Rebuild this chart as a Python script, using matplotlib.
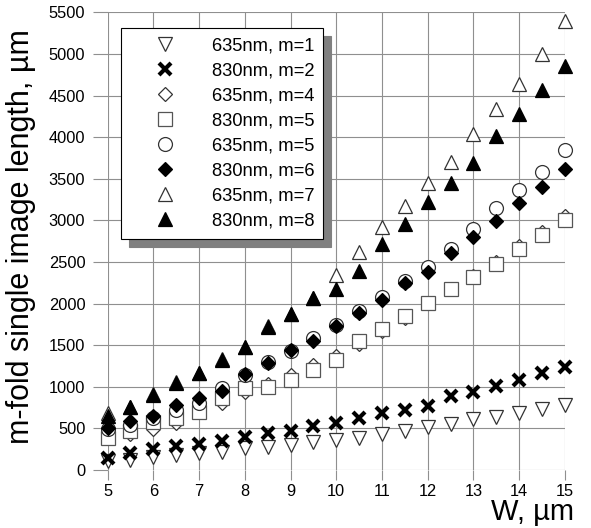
import matplotlib.pyplot as plt

plt.rcParams['font.family'] = ['Liberation Sans', 'DejaVu Sans']

# waveguide width, um
w = [5, 5.5, 6, 6.5, 7, 7.5, 8, 8.5, 9, 9.5, 10,
     10.5, 11, 11.5, 12, 12.5, 13, 13.5, 14, 14.5, 15]

# m-fold single image length, um
l635_m1 = [105, 125, 160, 185, 205, 220, 260, 280, 300, 340, 365,
           390, 430, 465, 515, 555, 610, 635, 690, 730, 780]
l830_m2 = [145, 205, 252, 290, 310, 348, 393, 441, 473, 529, 571,
           629, 689, 725, 773, 889, 934, 1010, 1082, 1169, 1242]
l635_m4 = [420, 430, 490, 565, 720, 800, 940, 1030, 1140, 1260, 1375,
           1515, 1665, 1830, 2010, 2180, 2330, 2495, 2690, 2865, 3050]
l830_m5 = [385, 470, 580, 620, 695, 860, 980, 995, 1085, 1200, 1320,
           1555, 1700, 1850, 2010, 2170, 2315, 2480, 2650, 2825, 3000]
l635_m5 = [490, 545, 620, 720, 810, 980, 1140, 1300, 1435, 1590, 1745,
           1905, 2075, 2270, 2440, 2650, 2900, 3145, 3365, 3585, 3840]
l830_m6 = [500, 595, 655, 780, 870, 955, 1155, 1285, 1445, 1550, 1730,
           1885, 2040, 2250, 2385, 2608, 2795, 2995, 3205, 3405, 3615]
l635_m7 = [690, 755, 915, 1055, 1165, 1330, 1480, 1725, 1875, 2065, 2340,
           2625, 2915, 3170, 3445, 3700, 4035, 4335, 4635, 4995, 5395]
l830_m8 = [645, 755, 905, 1040, 1165, 1325, 1475, 1720, 1875, 2065, 2180,
           2395, 2720, 2955, 3225, 3452, 3688, 4010, 4275, 4565, 4855]

labels = ['635nm, m=1', '830nm, m=2', '635nm, m=4', '830nm, m=5',
          '635nm, m=5', '830nm, m=6', '635nm, m=7', '830nm, m=8']
series = [l635_m1, l830_m2, l635_m4, l830_m5, l635_m5, l830_m6, l635_m7, l830_m8]

edge = '#333333'
styles = [
    dict(marker='v', ms=10, mfc='white', mec=edge, mew=0.9),
    dict(marker='x', ms=8.5, mec='black', mew=3.0),
    dict(marker='D', ms=7.2, mfc='white', mec=edge, mew=0.9),
    dict(marker='s', ms=9.5, mfc='white', mec='#555555', mew=0.9),
    dict(marker='o', ms=10, mfc='white', mec=edge, mew=0.9),
    dict(marker='D', ms=7.2, mfc='black', mec='black', mew=0.9),
    dict(marker='^', ms=10, mfc='white', mec=edge, mew=0.9),
    dict(marker='^', ms=10, mfc='black', mec='black', mew=0.9),
]

fig = plt.figure(figsize=(5.91, 5.28), dpi=100)
ax = fig.add_axes([0.1819, 0.1098, 0.7741, 0.8669])

for vals, lab, st in zip(series, labels, styles):
    ax.plot(w, vals, linestyle='none', label=lab, clip_on=False, **st)

ax.set_xlim(5, 15)
ax.set_ylim(0, 5500)
ax.set_xticks(range(5, 16))
ax.set_yticks(range(0, 5501, 500))
ax.grid(True, color='#8f8f8f', linewidth=0.8)
ax.set_axisbelow(True)
for sp in ax.spines.values():
    sp.set_visible(False)
ax.tick_params(axis='y', length=11, width=0.8, color='#8f8f8f', pad=5, labelsize=11.8)
ax.tick_params(axis='x', length=7, width=0.8, color='#8f8f8f', pad=3, labelsize=11.8)

leg = ax.legend(loc='upper left', bbox_to_anchor=(0.0289, 0.965), borderaxespad=0,
                fancybox=False, edgecolor='black', framealpha=1, fontsize=13.2,
                handlelength=3.82, handletextpad=0.66, borderpad=0.49,
                labelspacing=0.44, numpoints=1,
                shadow={'ox': 5.8, 'oy': -5.8, 'facecolor': '#808080',
                        'edgecolor': '#808080', 'alpha': 1})
leg.get_frame().set_linewidth(0.8)

fig.text(574 / 591, 8 / 528, 'W, µm', ha='right', va='baseline', fontsize=21)
fig.text(6 / 591, (528 - 237) / 528, 'm-fold single image length, µm',
         rotation=90, ha='left', va='center', fontsize=22)

fig.savefig('out.png', dpi=100)
